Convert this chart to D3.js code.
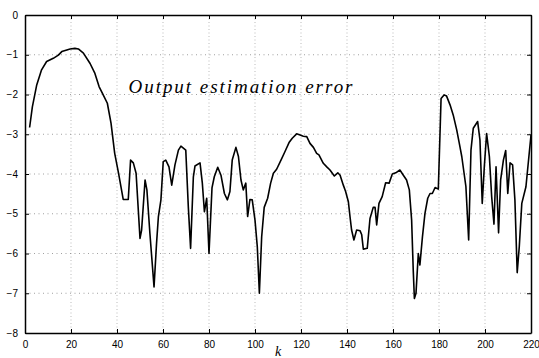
<!DOCTYPE html>
<html>
<head>
<meta charset="utf-8">
<script src="https://cdn.jsdelivr.net/npm/d3@7"></script>
<style>
  body { margin: 0; background: #fff; }
  .tick text { font-family: "Liberation Sans", Arial, sans-serif; font-size: 10px; fill: #000; }
</style>
</head>
<body>
<svg id="chart"></svg>
<script>
// sample index k and error value
const kValues = [2, 3.2, 5.1, 7.2, 9.4, 12.3, 14.5, 16, 19.6, 21.7, 23.2, 25.4, 28.3, 30.4, 32.2, 34, 35.8, 37.4, 39, 40.6,
  42.7, 44.9, 45.9, 47.1, 48.3, 50, 50.7, 52.2, 53, 54.3, 56.1, 57.2, 58, 59.1, 60.1, 61.2, 62.6, 63.8, 65.2, 66.7,
  67.8, 69.9, 71, 72, 73.2, 73.9, 76.1, 77.1, 78, 79, 80, 81.3, 82.3, 83.8, 85.2, 86.7, 88, 89.1, 90.1, 91.7,
  92.8, 93.9, 94.9, 96, 96.8, 97.8, 98.8, 100, 101, 101.9, 102.9, 104, 105.5, 106.8, 108, 109.4, 111.3, 113, 114.8, 116.2,
  118.1, 119.6, 121, 122.5, 123.9, 125.4, 126.8, 127.8, 129.7, 131.2, 132.6, 134.5, 136, 137, 138.4, 139.4, 140.6, 141.3, 142, 143,
  144.2, 145.7, 146.4, 147.1, 148.8, 150, 151.4, 152.2, 152.9, 153.9, 155.3, 156.8, 158.3, 159.7, 161.2, 163, 164.5, 165.9, 167.1, 168.1,
  168.8, 169.3, 170, 171, 171.7, 172.8, 173.9, 175.1, 176.1, 177.1, 178.3, 179.7, 180.9, 182.2, 183.3, 184.8, 186.2, 187.7, 189.1, 189.9,
  191.7, 192.9, 193.9, 194.9, 196.8, 197.8, 198.8, 199.7, 200.7, 201.9, 202.9, 203.9, 204.8, 205.9, 206.8, 208, 209, 209.9, 210.9, 212,
  213, 214, 214.9, 216, 217.8, 220];
const errValues = [-2.83, -2.31, -1.76, -1.38, -1.17, -1.09, -1.01, -0.92, -0.855, -0.84, -0.855, -0.96, -1.22, -1.47, -1.80, -2.01, -2.22, -2.72, -3.48, -3.96,
  -4.64, -4.64, -3.65, -3.72, -3.98, -5.62, -5.41, -4.15, -4.40, -5.49, -6.84, -5.74, -5.07, -4.65, -3.69, -3.65, -3.82, -4.28, -3.77, -3.40,
  -3.30, -3.40, -4.82, -5.87, -4.07, -3.80, -3.72, -4.23, -4.95, -4.61, -6.0, -4.35, -4.07, -3.83, -4.03, -4.49, -4.65, -4.44, -3.65, -3.33,
  -3.56, -4.15, -4.40, -4.23, -5.07, -4.64, -4.65, -5.16, -5.83, -7.0, -5.58, -4.84, -4.61, -4.23, -3.98, -3.88, -3.65, -3.44, -3.21, -3.10,
  -2.99, -3.02, -3.05, -3.06, -3.23, -3.33, -3.48, -3.52, -3.73, -3.82, -3.90, -4.05, -3.97, -4.03, -4.28, -4.44, -4.70, -5.07, -5.41, -5.66,
  -5.41, -5.43, -5.53, -5.89, -5.87, -5.12, -4.84, -4.84, -5.28, -4.74, -4.57, -4.22, -4.23, -4.00, -3.97, -3.90, -4.03, -4.15, -4.40, -5.16,
  -6.42, -7.13, -7.0, -6.0, -6.29, -5.58, -4.99, -4.61, -4.49, -4.49, -4.34, -4.38, -2.10, -2.01, -2.04, -2.26, -2.52, -2.89, -3.31, -3.56,
  -4.32, -5.66, -3.40, -2.85, -2.68, -3.14, -4.74, -3.82, -2.98, -3.56, -4.57, -5.26, -3.82, -5.48, -4.15, -3.65, -3.41, -4.49, -3.72, -3.77,
  -4.65, -6.48, -5.83, -4.74, -4.32, -3.02];

const xTicks = [0, 20, 40, 60, 80, 100, 120, 140, 160, 180, 200, 220];
const yTicks = [0, -1, -2, -3, -4, -5, -6, -7, -8];
const annotation = 'Output estimation error';
const xLabel = 'k';

const width = 539, height = 358;
const margin = { top: 15, right: 8, bottom: 25, left: 25 };
const w = width - margin.left - margin.right;
const h = height - margin.top - margin.bottom;

const svg = d3.select('#chart').attr('width', width).attr('height', height);
const g = svg.append('g').attr('transform', `translate(${margin.left},${margin.top})`);

const x = d3.scaleLinear().domain([0, 220]).range([0, w]);
const y = d3.scaleLinear().domain([-8, 0]).range([h, 0]);

// grid
g.append('g').selectAll('line').data(xTicks.slice(1, -1)).join('line')
  .attr('x1', d => x(d)).attr('x2', d => x(d)).attr('y1', 0).attr('y2', h)
  .attr('stroke', '#aaa').attr('stroke-width', 0.8).attr('stroke-dasharray', '1,2.5');
g.append('g').selectAll('line').data(yTicks.slice(1, -1)).join('line')
  .attr('x1', 0).attr('x2', w).attr('y1', d => y(d)).attr('y2', d => y(d))
  .attr('stroke', '#888').attr('stroke-width', 0.8).attr('stroke-dasharray', '1,3.5');

// axes, ticks pointing in
g.append('g').attr('transform', `translate(0,${h})`)
  .call(d3.axisBottom(x).tickValues(xTicks).tickSizeInner(-4).tickSizeOuter(0).tickPadding(8));
g.append('g')
  .call(d3.axisLeft(y).tickValues(yTicks).tickSizeInner(-4).tickSizeOuter(0).tickPadding(7));
g.append('g').call(d3.axisTop(x).tickValues(xTicks).tickSizeInner(-4).tickSizeOuter(0).tickFormat(''));
g.append('g').attr('transform', `translate(${w},0)`)
  .call(d3.axisRight(y).tickValues(yTicks).tickSizeInner(-4).tickSizeOuter(0).tickFormat(''));
g.selectAll('.domain').attr('stroke', '#000').attr('stroke-width', 1.5);
g.selectAll('.tick line').attr('stroke', '#000');

// the error curve
const line = d3.line().x((d, i) => x(kValues[i])).y(d => y(d));
g.append('path').datum(errValues)
  .attr('fill', 'none').attr('stroke', '#000').attr('stroke-width', 1.6)
  .attr('stroke-linejoin', 'round')
  .attr('d', line);

// labels
g.append('text')
  .attr('x', x(45)).attr('y', y(-1.97))
  .attr('font-family', '"Liberation Serif", "DejaVu Serif", serif')
  .attr('font-style', 'italic').attr('font-size', 19)
  .attr('textLength', 224).attr('lengthAdjust', 'spacing')
  .text(annotation);

svg.append('text')
  .attr('x', margin.left + x(110)).attr('y', height - 2)
  .attr('text-anchor', 'middle')
  .attr('font-family', '"Liberation Serif", "DejaVu Serif", serif')
  .attr('font-style', 'italic').attr('font-size', 14)
  .text(xLabel);
</script>
</body>
</html>
